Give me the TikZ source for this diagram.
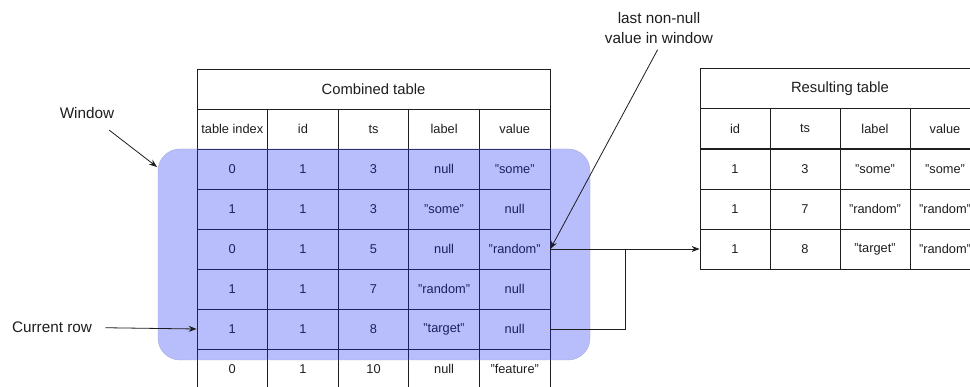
\documentclass[tikz,border=0pt]{standalone}
\usepackage{fontspec}
\setmainfont{Liberation Sans}
\usetikzlibrary{arrows.meta}
\definecolor{winfill}{RGB}{20,40,245}
\definecolor{winline}{RGB}{160,170,220}
\definecolor{ink}{RGB}{30,30,30}
\tikzset{
  cell/.style={draw=ink,line width=0.8pt,minimum width=70.6pt,minimum height=40pt,inner sep=0pt,text=ink,font=\fontsize{12.8}{15}\selectfont},
  rcell/.style={cell,minimum width=70pt},
  head/.style={cell,font=\fontsize{14.8}{17}\selectfont},
  note/.style={text=ink,font=\fontsize{15.3}{20}\selectfont,align=center},
  conn/.style={draw=ink,line width=0.8pt,-{Stealth[length=8pt,width=6pt]}}
}
\begin{document}
\begin{tikzpicture}[x=1pt,y=-1pt]
\clip (0,0) rectangle (970,387);
\useasboundingbox (0,0) rectangle (970,387);
\fill[white] (0,0) rectangle (970,387);

\node[head,minimum width=353pt] (ctitle) at (373.5,89) {Combined table};
\node[cell] (ch1) at (232.3,129) {table index};
\node[cell] (ch2) at (302.9,129) {id};
\node[cell] (ch3) at (373.5,129) {ts};
\node[cell] (ch4) at (444.1,129) {label};
\node[cell] (ch5) at (514.7,129) {value};

\node[cell] (c11) at (232.3,169) {0};
\node[cell] (c12) at (302.9,169) {1};
\node[cell] (c13) at (373.5,169) {3};
\node[cell] (c14) at (444.1,169) {null};
\node[cell] (c15) at (514.7,169) {"some"};
\node[cell] (c21) at (232.3,209) {1};
\node[cell] (c22) at (302.9,209) {1};
\node[cell] (c23) at (373.5,209) {3};
\node[cell] (c24) at (444.1,209) {"some"};
\node[cell] (c25) at (514.7,209) {null};
\node[cell] (c31) at (232.3,249) {0};
\node[cell] (c32) at (302.9,249) {1};
\node[cell] (c33) at (373.5,249) {5};
\node[cell] (c34) at (444.1,249) {null};
\node[cell] (c35) at (514.7,249) {"random"};
\node[cell] (c41) at (232.3,289) {1};
\node[cell] (c42) at (302.9,289) {1};
\node[cell] (c43) at (373.5,289) {7};
\node[cell] (c44) at (444.1,289) {"random"};
\node[cell] (c45) at (514.7,289) {null};
\node[cell] (c51) at (232.3,329) {1};
\node[cell] (c52) at (302.9,329) {1};
\node[cell] (c53) at (373.5,329) {8};
\node[cell] (c54) at (444.1,329) {"target"};
\node[cell] (c55) at (514.7,329) {null};
\node[cell] (c61) at (232.3,369) {0};
\node[cell] (c62) at (302.9,369) {1};
\node[cell] (c63) at (373.5,369) {10};
\node[cell] (c64) at (444.1,369) {null};
\node[cell] (c65) at (514.7,369) {"feature"};

\node[head,minimum width=280pt] (rtitle) at (840,88.5) {Resulting table};
\node[rcell] (rh1) at (735,128.5) {id};
\node[rcell] (rh2) at (805,128.5) {ts};
\node[rcell] (rh3) at (875,128.5) {label};
\node[rcell] (rh4) at (945,128.5) {value};
\node[rcell] (r11) at (735,169) {1};
\node[rcell] (r12) at (805,169) {3};
\node[rcell] (r13) at (875,169) {"some"};
\node[rcell] (r14) at (945,169) {"some"};
\node[rcell] (r21) at (735,209) {1};
\node[rcell] (r22) at (805,209) {7};
\node[rcell] (r23) at (875,209) {"random"};
\node[rcell] (r24) at (945,209) {"random"};
\node[rcell] (r31) at (735,249) {1};
\node[rcell] (r32) at (805,249) {8};
\node[rcell] (r33) at (875,249) {"target"};
\node[rcell] (r34) at (945,249) {"random"};

\draw[draw=winline,fill=winfill,fill opacity=0.3,rounded corners=22pt] (158,149) rectangle (590,360);

\node[note] (wintext) at (87,113) {Window};
\node[note] (rowtext) at (52,327) {Current row};
\node[note] (lasttext) at (659,28) {last non-null\\value in window};
\coordinate (wintip) at (157,167);
\coordinate (join) at (625,249);

\draw[conn,shorten <=13pt] (wintext) -- (wintip);
\draw[conn,shorten <=10pt] (rowtext) -- (c51.west);
\draw[conn,shorten <=3pt] (lasttext.south) -- (c35.east);
\draw[conn] (c35.east) -- (r31.west);
\draw[draw=ink,line width=0.8pt] (c55.east) -| (join);
\end{tikzpicture}
\end{document}
